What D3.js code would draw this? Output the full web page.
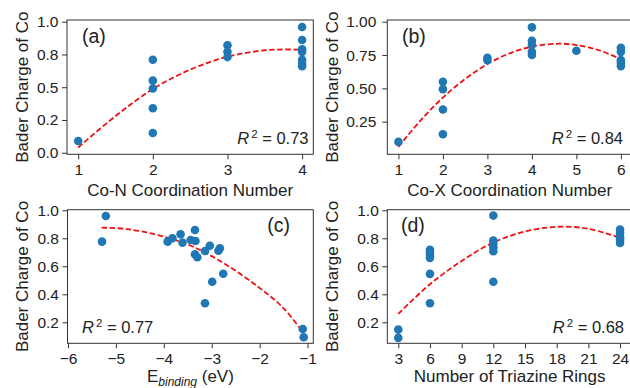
<!DOCTYPE html>
<html>
<head>
<meta charset="utf-8">
<script src="https://cdn.jsdelivr.net/npm/d3@7"></script>
<style>
  body { margin: 0; background: #fff; }
  svg text { font-family: "Liberation Sans", Arial, sans-serif; fill: #222; }
</style>
</head>
<body>
<script>
// panel (a): Co-N coordination number
var aX = [1, 2, 2, 2, 2, 2, 3, 3, 3, 4, 4, 4, 4, 4, 4, 4];
var aY = [0.09, 0.71, 0.55, 0.49, 0.34, 0.15, 0.82, 0.77, 0.73, 0.96, 0.86, 0.79, 0.77, 0.71, 0.68, 0.66];
var aFitX = [1, 1.5, 2, 2.5, 3, 3.5, 3.75, 4];
var aFitY = [0.04, 0.28, 0.486, 0.634, 0.733, 0.782, 0.788, 0.786];

// panel (b): Co-X coordination number
var bX = [1, 2, 2, 2, 2, 3, 3, 4, 4, 4, 4, 4, 5, 6, 6, 6, 6, 6];
var bY = [0.098, 0.549, 0.494, 0.341, 0.156, 0.729, 0.712, 0.958, 0.857, 0.825, 0.774, 0.75, 0.782, 0.805, 0.774, 0.712, 0.692, 0.667];
var bFitX = [1, 1.5, 2, 2.5, 3, 3.5, 4, 4.6, 5, 5.5, 6];
var bFitY = [0.06, 0.26, 0.431, 0.571, 0.682, 0.763, 0.813, 0.835, 0.825, 0.787, 0.72];

// panel (c): binding energy
var cX = [-5.21, -5.29, -3.92, -3.82, -3.65, -3.61, -3.44, -3.35, -3.34, -3.35, -3.30, -3.14, -3.04, -2.86, -2.83, -2.76, -2.99, -3.14, -1.10, -1.08];
var cY = [0.959, 0.776, 0.776, 0.80, 0.829, 0.769, 0.788, 0.859, 0.781, 0.686, 0.664, 0.709, 0.747, 0.711, 0.729, 0.547, 0.49, 0.336, 0.152, 0.093];
var cFitX = [-5.3, -4.78, -4.08, -3.39, -2.69, -2.0, -1.5, -1.1];
var cFitY = [0.876, 0.866, 0.819, 0.74, 0.609, 0.445, 0.30, 0.13];

// panel (d): number of triazine rings
var dX = [3, 3, 6, 6, 6, 6, 6, 6, 12, 12, 12, 12, 12, 12, 24, 24, 24, 24, 24];
var dY = [0.148, 0.089, 0.717, 0.70, 0.681, 0.66, 0.546, 0.336, 0.962, 0.784, 0.76, 0.736, 0.707, 0.489, 0.862, 0.838, 0.807, 0.789, 0.767];
var dFitX = [3, 6, 9, 12, 15, 18, 21, 24];
var dFitY = [0.26, 0.472, 0.638, 0.77, 0.848, 0.882, 0.868, 0.803];

var yTicksA = [0, 0.25, 0.5, 0.75, 1.0];
var yLabelsA = ["0.0", "0.2", "0.5", "0.8", "1.0"];
var yTicksB = [0.25, 0.5, 0.75, 1.0];
var yLabelsB = ["0.25", "0.50", "0.75", "1.00"];
var yTicksCD = [0.2, 0.4, 0.6, 0.8, 1.0];
var yLabelsCD = ["0.2", "0.4", "0.6", "0.8", "1.0"];
var xTicksA = [1, 2, 3, 4];
var xTicksB = [1, 2, 3, 4, 5, 6];
var xTicksC = [-6, -5, -4, -3, -2, -1];
var xLabelsC = ["\u22126", "\u22125", "\u22124", "\u22123", "\u22122", "\u22121"];
var xTicksD = [3, 6, 9, 12, 15, 18, 21, 24];

var svg = d3.select("body")
            .append("svg")
            .attr("width", 630)
            .attr("height", 388);

function panel(p) {
  var x = d3.scaleLinear().domain(p.xDomain).range([p.left, p.right]);
  var y = d3.scaleLinear().domain(p.yDomain).range([p.bottom, p.top]);
  var g = svg.append("g");

  var yAxis = d3.axisLeft(y)
                .tickValues(p.yTicks)
                .tickFormat((d, i) => p.yLabels[i])
                .tickSize(5)
                .tickPadding(p.yPad)
                .tickSizeOuter(0);
  var xAxis = d3.axisBottom(x)
                .tickValues(p.xTicks)
                .tickFormat((d, i) => p.xLabels ? p.xLabels[i] : d)
                .tickSize(5)
                .tickPadding(5)
                .tickSizeOuter(0);

  g.append("g")
   .attr("transform", "translate(" + p.left + ",0)")
   .call(yAxis);
  g.append("g")
   .attr("transform", "translate(0," + p.bottom + ")")
   .call(xAxis);
  g.selectAll(".domain").remove();
  g.selectAll(".tick line").attr("stroke", "#333");
  g.selectAll(".tick text")
   .attr("font-family", "Liberation Sans, Arial, sans-serif")
   .attr("font-size", "15.5px")
   .attr("fill", "#222");

  // frame
  g.append("rect")
   .attr("x", p.left)
   .attr("y", p.top)
   .attr("width", p.right - p.left)
   .attr("height", p.bottom - p.top)
   .attr("fill", "none")
   .attr("stroke", "#333")
   .attr("stroke-width", 1);

  // fit line
  var line = d3.line()
               .x((d)=> x(d[0]))
               .y((d)=> y(d[1]))
               .curve(d3.curveCatmullRom);
  g.append("path")
   .datum(d3.zip(p.fitX, p.fitY))
   .attr("d", line)
   .attr("fill", "none")
   .attr("stroke", "#ee1111")
   .attr("stroke-width", 1.8)
   .attr("stroke-dasharray", "5.5,2.6");

  g.selectAll("circle")
   .data(d3.zip(p.xs, p.ys))
   .enter()
   .append("circle")
   .attr("cx", (d)=> x(d[0]))
   .attr("cy", (d)=> y(d[1]))
   .attr("r", 4.3)
   .attr("fill", "#1f77b4");

  // y label
  g.append("text")
   .attr("transform", "translate(" + p.yLabelX + "," + ((p.top + p.bottom) / 2) + ") rotate(-90)")
   .attr("text-anchor", "middle")
   .attr("font-size", "17px")
   .text("Bader Charge of Co");

  // x label
  var xl = g.append("text")
            .attr("x", (p.left + p.right) / 2)
            .attr("y", p.xLabelY)
            .attr("text-anchor", "middle")
            .attr("font-size", "17px");
  if (p.xLabelSub) {
    xl.append("tspan").text(p.xLabel);
    xl.append("tspan").attr("dy", 3.5).attr("font-size", "12px").attr("font-style", "italic").text(p.xLabelSub);
    xl.append("tspan").attr("dy", -3.5).text(" " + p.xLabelTail);
  } else {
    xl.text(p.xLabel);
  }

  // panel tag
  g.append("text")
   .attr("x", p.tagX)
   .attr("y", p.tagY)
   .attr("text-anchor", p.tagAnchor)
   .attr("font-size", "19.5px")
   .text(p.tag);

  // R^2
  var r = g.append("text")
           .attr("x", p.rX)
           .attr("y", p.rY)
           .attr("text-anchor", p.rAnchor)
           .attr("font-size", "16.5px");
  r.append("tspan").attr("font-style", "italic").text("R");
  r.append("tspan").attr("dx", 2).attr("dy", -6).attr("font-size", "11.5px").text("2");
  r.append("tspan").attr("dy", 6).text(" = " + p.r2);
}

panel({
  xs: aX, ys: aY, fitX: aFitX, fitY: aFitY,
  xDomain: [0.85, 4.15], yDomain: [-0.012, 1.013],
  left: 67, right: 313.3, top: 20, bottom: 154.3,
  yTicks: yTicksA, yLabels: yLabelsA, yPad: 3.5,
  xTicks: xTicksA,
  yLabelX: 27.5, xLabelY: 196, xLabel: "Co-N Coordination Number",
  tag: "(a)", tagX: 82, tagY: 43, tagAnchor: "start",
  r2: "0.73", rX: 308.5, rY: 144, rAnchor: "end"
});

panel({
  xs: bX, ys: bY, fitX: bFitX, fitY: bFitY,
  xDomain: [0.75, 6.25], yDomain: [0.005, 1.013],
  left: 387.3, right: 632, top: 20, bottom: 154.3,
  yTicks: yTicksB, yLabels: yLabelsB, yPad: 6,
  xTicks: xTicksB,
  yLabelX: 337.5, xLabelY: 196, xLabel: "Co-X Coordination Number",
  tag: "(b)", tagX: 402, tagY: 43, tagAnchor: "start",
  r2: "0.84", rX: 623, rY: 144, rAnchor: "end"
});

panel({
  xs: cX, ys: cY, fitX: cFitX, fitY: cFitY,
  xDomain: [-6.01, -0.88], yDomain: [0.05, 1.004],
  left: 67.5, right: 313.3, top: 209.7, bottom: 343.3,
  yTicks: yTicksCD, yLabels: yLabelsCD, yPad: 3.5,
  xTicks: xTicksC, xLabels: xLabelsC,
  yLabelX: 27.5, xLabelY: 382, xLabel: "E", xLabelSub: "binding", xLabelTail: "(eV)",
  tag: "(c)", tagX: 290, tagY: 232, tagAnchor: "end",
  r2: "0.77", rX: 82, rY: 333.3, rAnchor: "start"
});

panel({
  xs: dX, ys: dY, fitX: dFitX, fitY: dFitY,
  xDomain: [1.96, 25.13], yDomain: [0.05, 1.004],
  left: 387.3, right: 632, top: 209.7, bottom: 343.3,
  yTicks: yTicksCD, yLabels: yLabelsCD, yPad: 3.5,
  xTicks: xTicksD,
  yLabelX: 337.5, xLabelY: 382, xLabel: "Number of Triazine Rings",
  tag: "(d)", tagX: 401, tagY: 232, tagAnchor: "start",
  r2: "0.68", rX: 624, rY: 333.3, rAnchor: "end"
});
</script>
</body>
</html>
